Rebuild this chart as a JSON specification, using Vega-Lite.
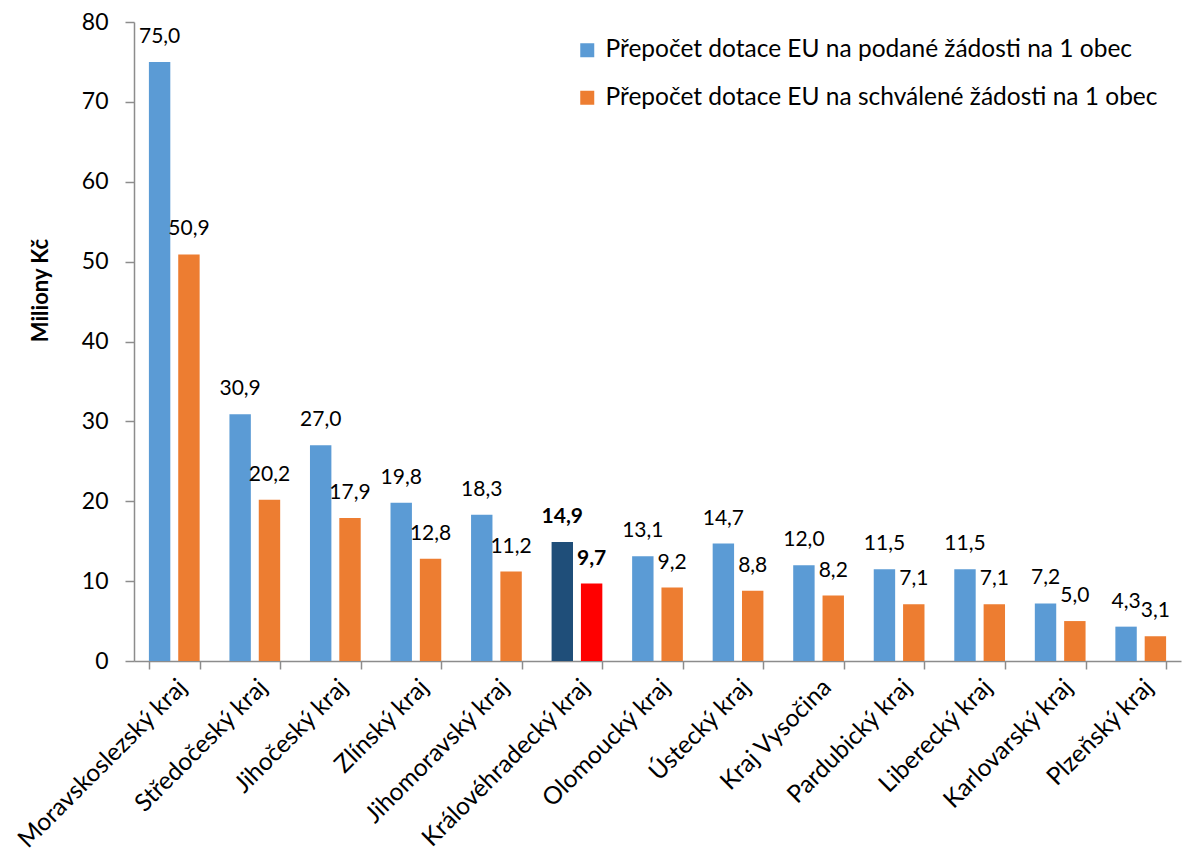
{
  "$schema": "https://vega.github.io/schema/vega-lite/v6.json",
  "autosize": {"type": "none"},
  "padding": {"left": 134, "top": 22, "right": 2, "bottom": 196},
  "width": 1047,
  "height": 639,
  "background": "white",
  "config": {
    "view": {"stroke": null},
    "font": "Lato",
    "locale": {"number": {"decimal": ",", "thousands": " ", "grouping": [3], "currency": ["", " Kč"]}}
  },
  "data": {"values": [
    {"kraj": "Moravskoslezský kraj", "serie": "Přepočet dotace EU na podané žádosti na 1 obec", "hodnota": 75.0},
    {"kraj": "Moravskoslezský kraj", "serie": "Přepočet dotace EU na schválené žádosti na 1 obec", "hodnota": 50.9},
    {"kraj": "Středočeský kraj", "serie": "Přepočet dotace EU na podané žádosti na 1 obec", "hodnota": 30.9},
    {"kraj": "Středočeský kraj", "serie": "Přepočet dotace EU na schválené žádosti na 1 obec", "hodnota": 20.2},
    {"kraj": "Jihočeský kraj", "serie": "Přepočet dotace EU na podané žádosti na 1 obec", "hodnota": 27.0},
    {"kraj": "Jihočeský kraj", "serie": "Přepočet dotace EU na schválené žádosti na 1 obec", "hodnota": 17.9},
    {"kraj": "Zlínský kraj", "serie": "Přepočet dotace EU na podané žádosti na 1 obec", "hodnota": 19.8},
    {"kraj": "Zlínský kraj", "serie": "Přepočet dotace EU na schválené žádosti na 1 obec", "hodnota": 12.8},
    {"kraj": "Jihomoravský kraj", "serie": "Přepočet dotace EU na podané žádosti na 1 obec", "hodnota": 18.3},
    {"kraj": "Jihomoravský kraj", "serie": "Přepočet dotace EU na schválené žádosti na 1 obec", "hodnota": 11.2},
    {"kraj": "Královéhradecký kraj", "serie": "Přepočet dotace EU na podané žádosti na 1 obec", "hodnota": 14.9},
    {"kraj": "Královéhradecký kraj", "serie": "Přepočet dotace EU na schválené žádosti na 1 obec", "hodnota": 9.7},
    {"kraj": "Olomoucký kraj", "serie": "Přepočet dotace EU na podané žádosti na 1 obec", "hodnota": 13.1},
    {"kraj": "Olomoucký kraj", "serie": "Přepočet dotace EU na schválené žádosti na 1 obec", "hodnota": 9.2},
    {"kraj": "Ústecký kraj", "serie": "Přepočet dotace EU na podané žádosti na 1 obec", "hodnota": 14.7},
    {"kraj": "Ústecký kraj", "serie": "Přepočet dotace EU na schválené žádosti na 1 obec", "hodnota": 8.8},
    {"kraj": "Kraj Vysočina", "serie": "Přepočet dotace EU na podané žádosti na 1 obec", "hodnota": 12.0},
    {"kraj": "Kraj Vysočina", "serie": "Přepočet dotace EU na schválené žádosti na 1 obec", "hodnota": 8.2},
    {"kraj": "Pardubický kraj", "serie": "Přepočet dotace EU na podané žádosti na 1 obec", "hodnota": 11.5},
    {"kraj": "Pardubický kraj", "serie": "Přepočet dotace EU na schválené žádosti na 1 obec", "hodnota": 7.1},
    {"kraj": "Liberecký kraj", "serie": "Přepočet dotace EU na podané žádosti na 1 obec", "hodnota": 11.5},
    {"kraj": "Liberecký kraj", "serie": "Přepočet dotace EU na schválené žádosti na 1 obec", "hodnota": 7.1},
    {"kraj": "Karlovarský kraj", "serie": "Přepočet dotace EU na podané žádosti na 1 obec", "hodnota": 7.2},
    {"kraj": "Karlovarský kraj", "serie": "Přepočet dotace EU na schválené žádosti na 1 obec", "hodnota": 5.0},
    {"kraj": "Plzeňský kraj", "serie": "Přepočet dotace EU na podané žádosti na 1 obec", "hodnota": 4.3},
    {"kraj": "Plzeňský kraj", "serie": "Přepočet dotace EU na schválené žádosti na 1 obec", "hodnota": 3.1}
  ]},
  "encoding": {
    "x": {
      "field": "kraj", "type": "nominal", "sort": null,
      "scale": {"paddingInner": 0.37, "paddingOuter": 0.185},
      "axis": {
        "title": null, "labelAngle": -45, "labelFontSize": 24.5, "labelColor": "black", "labelLimit": 500,
        "domainColor": "#8c8c8c", "domainWidth": 1.5, "tickColor": "#8c8c8c", "tickWidth": 1.5,
        "tickSize": 8, "tickBand": "extent", "labelPadding": 6, "labelDx": -10, "labelDy": -4
      }
    },
    "xOffset": {"field": "serie", "type": "nominal", "sort": null, "scale": {"paddingInner": 0.27, "paddingOuter": 0}},
    "y": {
      "field": "hodnota", "type": "quantitative",
      "scale": {"domain": [0, 80], "nice": false},
      "axis": {
        "title": "Miliony Kč", "titleFontSize": 22, "titleFontWeight": "bold", "titleColor": "black",
        "titleX": -87, "titleY": 268, "titleBaseline": "alphabetic", "titleAlign": "center", "titleAngle": -90,
        "values": [0, 10, 20, 30, 40, 50, 60, 70, 80], "grid": false, "format": "d",
        "labelFontSize": 23, "labelColor": "black", "labelPadding": 17,
        "tickSize": 9, "tickColor": "#8c8c8c", "tickWidth": 1.5,
        "domainColor": "#8c8c8c", "domainWidth": 1.5
      }
    }
  },
  "layer": [
    {
      "mark": {"type": "bar"},
      "encoding": {
        "color": {
          "condition": [
            {"test": "datum.kraj === 'Královéhradecký kraj' && datum.serie === 'Přepočet dotace EU na podané žádosti na 1 obec'", "value": "#1F4E79"},
            {"test": "datum.kraj === 'Královéhradecký kraj' && datum.serie === 'Přepočet dotace EU na schválené žádosti na 1 obec'", "value": "#FF0000"}
          ],
          "field": "serie", "type": "nominal", "sort": null,
          "scale": {
            "domain": ["Přepočet dotace EU na podané žádosti na 1 obec", "Přepočet dotace EU na schválené žádosti na 1 obec"],
            "range": ["#5B9BD5", "#ED7D31"]
          },
          "legend": {
            "title": null, "orient": "none", "legendX": 441, "legendY": 16,
            "symbolType": "square", "symbolSize": 196, "symbolStrokeWidth": 0,
            "labelFontSize": 24.5, "labelColor": "black", "labelLimit": 800, "labelOffset": 6,
            "rowPadding": 22.5
          }
        }
      }
    },
    {
      "transform": [{"filter": "datum.kraj !== 'Královéhradecký kraj'"}],
      "mark": {"type": "text", "baseline": "alphabetic", "dy": -19, "fontSize": 21, "color": "black"},
      "encoding": {"text": {"field": "hodnota", "type": "quantitative", "format": ".1f"}}
    },
    {
      "transform": [{"filter": "datum.kraj === 'Královéhradecký kraj'"}],
      "mark": {"type": "text", "baseline": "alphabetic", "dy": -19, "fontSize": 21, "fontWeight": "bold", "color": "black"},
      "encoding": {"text": {"field": "hodnota", "type": "quantitative", "format": ".1f"}}
    }
  ]
}
